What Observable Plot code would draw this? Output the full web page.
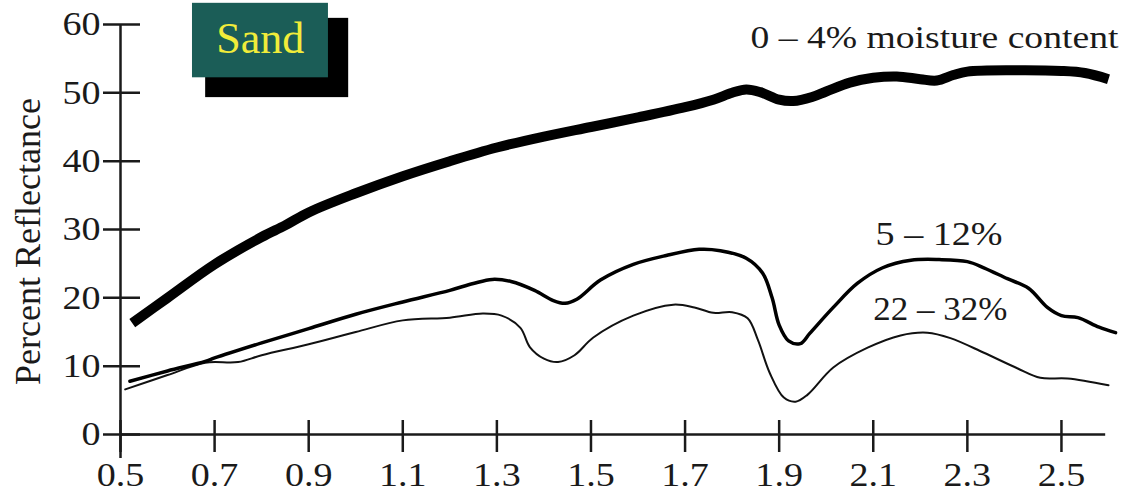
<!DOCTYPE html>
<html><head><meta charset="utf-8">
<script src="https://cdn.jsdelivr.net/npm/d3@7"></script>
<script src="https://cdn.jsdelivr.net/npm/@observablehq/plot@0.6"></script>
<style>html,body{margin:0;padding:0;background:#fff}svg{display:block}</style>
</head><body><div id="chart"></div>
<script>
// Tick values
const xTicks = [0.5, 0.7, 0.9, 1.1, 1.3, 1.5, 1.7, 1.9, 2.1, 2.3, 2.5];
const yTicks = [0, 10, 20, 30, 40, 50, 60];

// Series labels
const seriesNames = ["0 – 4% moisture content", "5 – 12%", "22 – 32%"];

// 0 – 4% moisture (wavelength µm, percent reflectance)
const dryX = [0.525,0.6,0.7,0.8,0.85,0.9,1.0,1.1,1.2,1.3,1.4,1.5,1.6,1.7,1.76,1.8,1.83,1.86,1.9,1.93,1.97,2.0,2.05,2.1,2.15,2.2,2.235,2.27,2.3,2.4,2.5,2.55,2.6];
const dryY = [16.3,20.0,24.9,28.9,30.6,32.5,35.3,37.8,40.0,42.0,43.6,45.0,46.4,47.9,49.0,50.0,50.5,50.1,49.0,48.8,49.4,50.2,51.5,52.2,52.4,52.0,51.8,52.6,53.1,53.3,53.2,52.9,52.0];

// 5 – 12% moisture
const midX = [0.52,0.6,0.68,0.7,0.8,0.9,1.0,1.1,1.2,1.25,1.29,1.33,1.38,1.42,1.445,1.47,1.52,1.59,1.66,1.73,1.775,1.83,1.865,1.885,1.9,1.92,1.945,1.965,2.015,2.066,2.12,2.18,2.24,2.3,2.335,2.385,2.43,2.47,2.5,2.535,2.58,2.615];
const midY = [7.8,9.3,10.7,11.2,13.4,15.5,17.6,19.4,21.1,22.1,22.7,22.4,21.1,19.6,19.2,19.8,22.6,24.9,26.2,27.1,26.9,25.8,23.6,20.0,16.0,13.7,13.3,14.8,18.6,22.1,24.4,25.5,25.6,25.3,24.4,22.8,21.4,18.6,17.4,17.1,15.7,14.9];

// 22 – 32% moisture
const wetX = [0.51,0.6,0.68,0.75,0.8,0.9,1.0,1.1,1.2,1.27,1.31,1.35,1.37,1.4,1.43,1.465,1.505,1.59,1.675,1.72,1.76,1.8,1.833,1.855,1.88,1.91,1.935,1.96,2.015,2.088,2.158,2.215,2.264,2.334,2.406,2.455,2.513,2.6];
const wetY = [6.6,8.7,10.5,10.6,11.6,13.2,15.0,16.7,17.1,17.7,17.4,15.6,12.8,11.1,10.6,11.6,14.2,17.4,19.0,18.6,17.8,17.9,17.0,13.8,9.0,5.4,4.8,5.8,9.8,12.7,14.5,14.9,14.1,12.0,9.7,8.3,8.2,7.2];

const rows = [
  ...dryX.map((x, i) => ({series: seriesNames[0], x, y: dryY[i]})),
  ...midX.map((x, i) => ({series: seriesNames[1], x, y: midY[i]})),
  ...wetX.map((x, i) => ({series: seriesNames[2], x, y: wetY[i]}))
];

// Annotation placements (data coordinates)
const seriesLabelPos = [
  {text: seriesNames[0], x: 1.839, y: 56.6, size: 31, width: 368},
  {text: seriesNames[1], x: 2.105, y: 27.7, size: 33, width: 127},
  {text: seriesNames[2], x: 2.100, y: 16.7, size: 33, width: 134}
];
const sandShadow = {x1: 0.681, x2: 0.985, y1: 49.3, y2: 60.9};
const sandBox = {x1: 0.653, x2: 0.942, y1: 52.2, y2: 63.1};
const sandLabel = {text: "Sand", x: 0.797, y: 55.9};

const font = '"Liberation Serif","Times New Roman",Times,serif';
const ink = "#1a1a1a";

const chart = Plot.plot({
  width: 1138, height: 501,
  marginLeft: 120, marginRight: 30, marginTop: 24, marginBottom: 67,
  style: {fontFamily: font, background: "#fff", color: ink, overflow: "visible"},
  x: {domain: [0.5, 2.6]},
  y: {domain: [0, 60]},
  marks: [
    // axes
    Plot.ruleY([0], {x1: 0.5, x2: 2.594, stroke: ink, strokeWidth: 2.5}),
    Plot.ruleX([0.5], {y1: -3.5, y2: 60, stroke: ink, strokeWidth: 2.5}),
    Plot.axisY(yTicks, {anchor: "left", tickSize: 37, dx: 20, tickPadding: 3, fontSize: 34, strokeWidth: 2.5, stroke: ink, fill: ink, tickFormat: d => String(d), label: null}),
    Plot.axisX(xTicks, {anchor: "bottom", tickSize: 32, dy: -14, tickPadding: 9, fontSize: 34, strokeWidth: 2.5, stroke: ink, fill: ink, tickFormat: d => d.toFixed(1), label: null}),
    Plot.text(["Percent Reflectance"], {frameAnchor: "left", textAnchor: "middle", rotate: -90, dx: -92, dy: 12, fontSize: 36, fill: ink}),
    // Sand legend box
    Plot.rect([sandShadow], {x1: "x1", x2: "x2", y1: "y1", y2: "y2", fill: "#000"}),
    Plot.rect([sandBox], {x1: "x1", x2: "x2", y1: "y1", y2: "y2", fill: "#1b5d57"}),
    Plot.text([sandLabel], {x: "x", y: "y", text: "text", fontSize: 44, fill: "#f1ec3a", textAnchor: "middle", lineAnchor: "bottom"}),
    // curves
    Plot.line(rows.filter(d => d.series === seriesNames[2]), {x: "x", y: "y", curve: "catmull-rom", stroke: "#111", strokeWidth: 2}),
    Plot.line(rows.filter(d => d.series === seriesNames[1]), {x: "x", y: "y", curve: "catmull-rom", stroke: "#000", strokeWidth: 3.5}),
    Plot.line(rows.filter(d => d.series === seriesNames[0]), {x: "x", y: "y", curve: "catmull-rom", stroke: "#000", strokeWidth: 10, strokeLinecap: "butt"}),
    // series labels
    Plot.text(seriesLabelPos, {x: "x", y: "y", text: "text", fontSize: d => d.size, fill: ink, textAnchor: "start", lineAnchor: "bottom"})
  ]
});
document.getElementById("chart").appendChild(chart);

// Stretch texts horizontally to match the reference glyph widths
const widths = new Map(seriesLabelPos.map(d => [d.text, d.width]));
const tickLabels = new Set([...xTicks.map(d => d.toFixed(1)), ...yTicks.map(String)]);
chart.querySelectorAll("text").forEach(t => {
  const s = t.textContent;
  let w = widths.get(s);
  if (!w && tickLabels.has(s)) w = t.getComputedTextLength() * 1.12;
  if (w) { t.setAttribute("textLength", w); t.setAttribute("lengthAdjust", "spacingAndGlyphs"); }
});
</script>
</body></html>
